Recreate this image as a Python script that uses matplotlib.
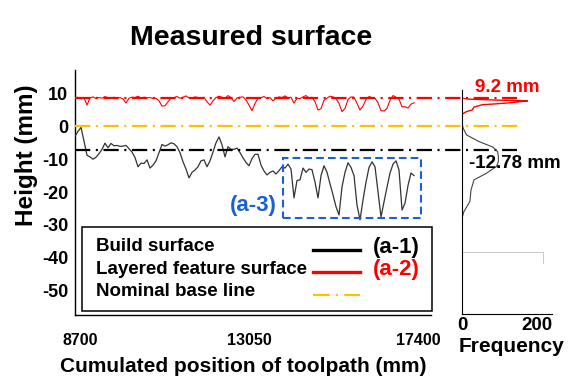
import numpy as np
import matplotlib
matplotlib.use('Agg')
import matplotlib.pyplot as plt
from matplotlib.patches import Rectangle
from matplotlib.lines import Line2D

plt.rcParams['font.family'] = ['Liberation Sans', 'DejaVu Sans']
plt.rcParams['font.weight'] = 'bold'
plt.rcParams['lines.scale_dashes'] = False

# ---------------- data ----------------
pos_start, pos_end = 8571, 17297

build_surface = [
    -3.0, -1.5, -0.3, -4.5, -8.8, -9.3, -10.0, -9.4, -8.3, -7.0,
    -5.1, -6.5, -5.2, -5.9, -5.8, -6.1, -6.0, -5.8, -6.8, -7.8,
    -9.5, -12.3, -11.2, -11.3, -10.2, -12.7, -11.8, -10.5, -8.0, -5.5,
    -6.0, -5.6, -5.0, -5.3, -6.2, -8.0, -10.8, -13.0, -15.7, -14.0,
    -13.3, -12.3, -10.5, -10.2, -12.3, -10.5, -7.8, -5.0, -3.2, -5.6,
    -9.3, -6.2, -7.0, -7.0, -6.6, -8.0, -9.6, -11.0, -12.0, -9.8,
    -8.5, -8.5, -11.8, -13.6, -14.8, -14.0, -13.6, -14.5, -13.5, -12.3,
    -12.7, -11.5, -13.0, -21.8, -16.5, -16.3, -12.7, -14.0, -13.0, -13.2,
    -17.0, -21.8, -15.0, -12.0, -14.0, -17.5, -20.9, -24.5, -27.0, -18.4,
    -14.0, -11.1, -12.5, -15.0, -24.0, -28.5, -22.4, -17.0, -12.5, -10.8,
    -12.3, -20.0, -27.6, -23.0, -18.5, -14.2, -11.5, -10.5, -13.3, -25.5,
    -23.4, -18.0, -14.2, -15.0,
]

layered_surface = [
    8.6, 8.9, 8.4, 8.8, 6.5, 8.7, 9.0, 8.5, 8.8, 8.6,
    9.1, 8.7, 8.5, 8.9, 8.6, 8.8, 8.4, 7.1, 8.6, 8.9,
    8.8, 9.2, 8.6, 8.9, 8.7, 8.8, 8.5, 8.6, 7.8, 6.2,
    6.3, 7.5, 8.7, 8.8, 9.1, 8.6, 8.9, 9.3, 8.7, 8.6,
    9.0, 8.8, 8.5, 8.9, 7.5, 6.5, 7.8, 8.8, 9.2, 8.9,
    8.6, 9.4, 8.8, 7.6, 8.7, 8.9, 9.0, 8.0, 6.5, 4.8,
    7.0, 8.6, 8.8, 9.1, 8.5, 8.8, 7.8, 8.6, 9.0, 8.8,
    9.3, 8.7, 8.9, 7.1, 8.6, 8.5, 9.0, 9.4, 8.7, 8.9,
    7.5, 5.0, 5.4, 8.0, 8.6, 9.2, 9.0, 8.5, 7.0, 4.5,
    5.5, 8.2, 9.0, 8.9, 7.0, 5.0, 6.2, 8.2, 9.1, 8.8,
    8.6, 7.2, 4.8, 4.7, 5.5, 8.0, 9.4, 8.9, 8.3, 6.0,
    6.0, 5.6, 6.8, 7.2,
]

layered_level = 8.7     # 9.2 mm reference line
nominal_level = 0.0
build_level = -7.2

x_ticks = [8700, 13050, 17400]
y_ticks = [10, 0, -10, -20, -30, -40, -50]
freq_ticks = [0, 200]

build_freq_h = [1.0, -0.5, -2.6, -4.6, -6.3, -7.7, -9.2, -10.7, -12.2,
                -14.3, -16.3, -19.4, -22.9, -26.0, -28.0]
build_freq = [0, 3, 12, 45, 82, 95, 97, 97, 92, 65, 32, 24, 21, 5, 0]

layered_freq_h = [3.7, 4.5, 5.0, 5.9, 6.6, 7.1, 7.6, 7.8, 8.0, 8.3, 8.6]
layered_freq = [0, 12, 27, 32, 54, 118, 160, 175, 100, 20, 0]

artifact_h = [-38.3, -38.3, -41.6]
artifact_f = [0, 217, 217]

region_a3_x = [13925, 17477]
region_a3_h = [-27.9, -9.6]

legend_labels = ['Build surface', 'Layered feature surface', 'Nominal base line']

# ---------------- figure ----------------
W, H = 586, 392
fig = plt.figure(figsize=(W / 100, H / 100), dpi=100)


def fx(x):
    return x / W


def fy(y):
    return 1 - y / H


positions = np.linspace(pos_start, pos_end, len(build_surface))

ax = fig.add_axes([fx(75), fy(315), fx(431) - fx(75), fy(70) - fy(315)])
ax.patch.set_visible(False)
ax.set_xlim(8571, 17734)
ax.set_ylim(-57.5, 17.2)
for s in ['top', 'right']:
    ax.spines[s].set_visible(False)
for s in ['left', 'bottom']:
    ax.spines[s].set_linewidth(1.0)

ax.plot(positions, build_surface, color='#333333', lw=0.9, zorder=3)
ax.plot(positions, layered_surface, color='#ff0000', lw=0.8, zorder=3)

line_end = 19948
dd = [11, 4, 1.5, 4]
ax.plot([8571, line_end], [layered_level] * 2, color='#ff0000', lw=1.6,
        dashes=dd, clip_on=False, zorder=4)
ax.plot([8571, line_end], [nominal_level] * 2, color='#ffc000', lw=1.6,
        dashes=dd, clip_on=False, zorder=4)
ax.plot([8571, line_end], [build_level] * 2, color='#000000', lw=1.6,
        dashes=dd, clip_on=False, zorder=4)

ax.add_patch(Rectangle((region_a3_x[0], region_a3_h[0]),
                       region_a3_x[1] - region_a3_x[0],
                       region_a3_h[1] - region_a3_h[0],
                       fill=False, ec='#1a5fd8', lw=1.5,
                       ls=(0, (5.5, 3)), clip_on=False, zorder=5))

ax.set_xticks(x_ticks)
ax.set_xticklabels([str(v) for v in x_ticks], fontsize=11.5, fontweight='bold')
ax.set_yticks(y_ticks)
ax.set_yticklabels([str(v) for v in y_ticks], fontsize=13, fontweight='bold')
ax.tick_params(axis='x', length=0, pad=13)
ax.tick_params(axis='y', length=0, pad=5)

# frequency axes
axf = fig.add_axes([fx(462), fy(314), fx(552) - fx(462), fy(90) - fy(314)])
axf.patch.set_visible(False)
axf.set_xlim(0, 240)
axf.set_ylim(-57.2, 11.1)
for s in ['top', 'right']:
    axf.spines[s].set_visible(False)
axf.set_yticks([])
axf.set_xticks(freq_ticks)
axf.set_xticklabels([str(v) for v in freq_ticks], fontsize=13.5, fontweight='bold')
axf.tick_params(axis='x', length=0, pad=2)
axf.plot(build_freq, build_freq_h, color='#444444', lw=0.8)
axf.plot(layered_freq, layered_freq_h, color='#ff0000', lw=1.0)
axf.plot(artifact_f, artifact_h, color='#cccccc', lw=0.8)

# texts
fig.text(fx(251), fy(38), 'Measured surface', fontsize=20.5, fontweight='bold',
         ha='center', va='center')
fig.text(fx(26), fy(155), 'Height (mm)', fontsize=17.5, fontweight='bold',
         rotation=90, ha='center', va='center')
fig.text(fx(243), fy(367), 'Cumulated position of toolpath (mm)', fontsize=15,
         fontweight='bold', ha='center', va='center')
fig.text(fx(512), fy(347), 'Frequency', fontsize=15, fontweight='bold',
         ha='center', va='center')
fig.text(fx(507), fy(88), '9.2 mm', fontsize=13.5, fontweight='bold',
         color='#ff0000', ha='center', va='center')
fig.text(fx(515), fy(163), '-12.78 mm', fontsize=13.5, fontweight='bold',
         color='black', ha='center', va='center')
fig.text(fx(253), fy(205), '(a-3)', fontsize=16, fontweight='bold',
         color='#1a5fd8', ha='center', va='center')

# legend box
fig.add_artist(Rectangle((fx(82), fy(311)), fx(432) - fx(82), fy(227) - fy(311),
                         transform=fig.transFigure, fill=False, ec='black', lw=1.1))
rows_y = [247, 270, 292]
line_y = [250, 272, 295]
for lab, yy in zip(legend_labels, rows_y):
    fig.text(fx(96), fy(yy), lab, fontsize=13.5, fontweight='bold',
             ha='left', va='center')
fig.add_artist(Line2D([fx(313), fx(360)], [fy(line_y[0])] * 2, color='black', lw=2.4))
fig.add_artist(Line2D([fx(313), fx(360)], [fy(line_y[1])] * 2, color='#ff0000', lw=2.4))
fig.add_artist(Line2D([fx(313), fx(360)], [fy(line_y[2])] * 2, color='#ffc000', lw=1.6,
                      dashes=[12, 4.5, 1.5, 4.5]))
fig.text(fx(396), fy(247), '(a-1)', fontsize=16, fontweight='bold', color='black',
         ha='center', va='center')
fig.text(fx(396), fy(270), '(a-2)', fontsize=16, fontweight='bold', color='#ff0000',
         ha='center', va='center')

fig.savefig('out.png', dpi=100)
